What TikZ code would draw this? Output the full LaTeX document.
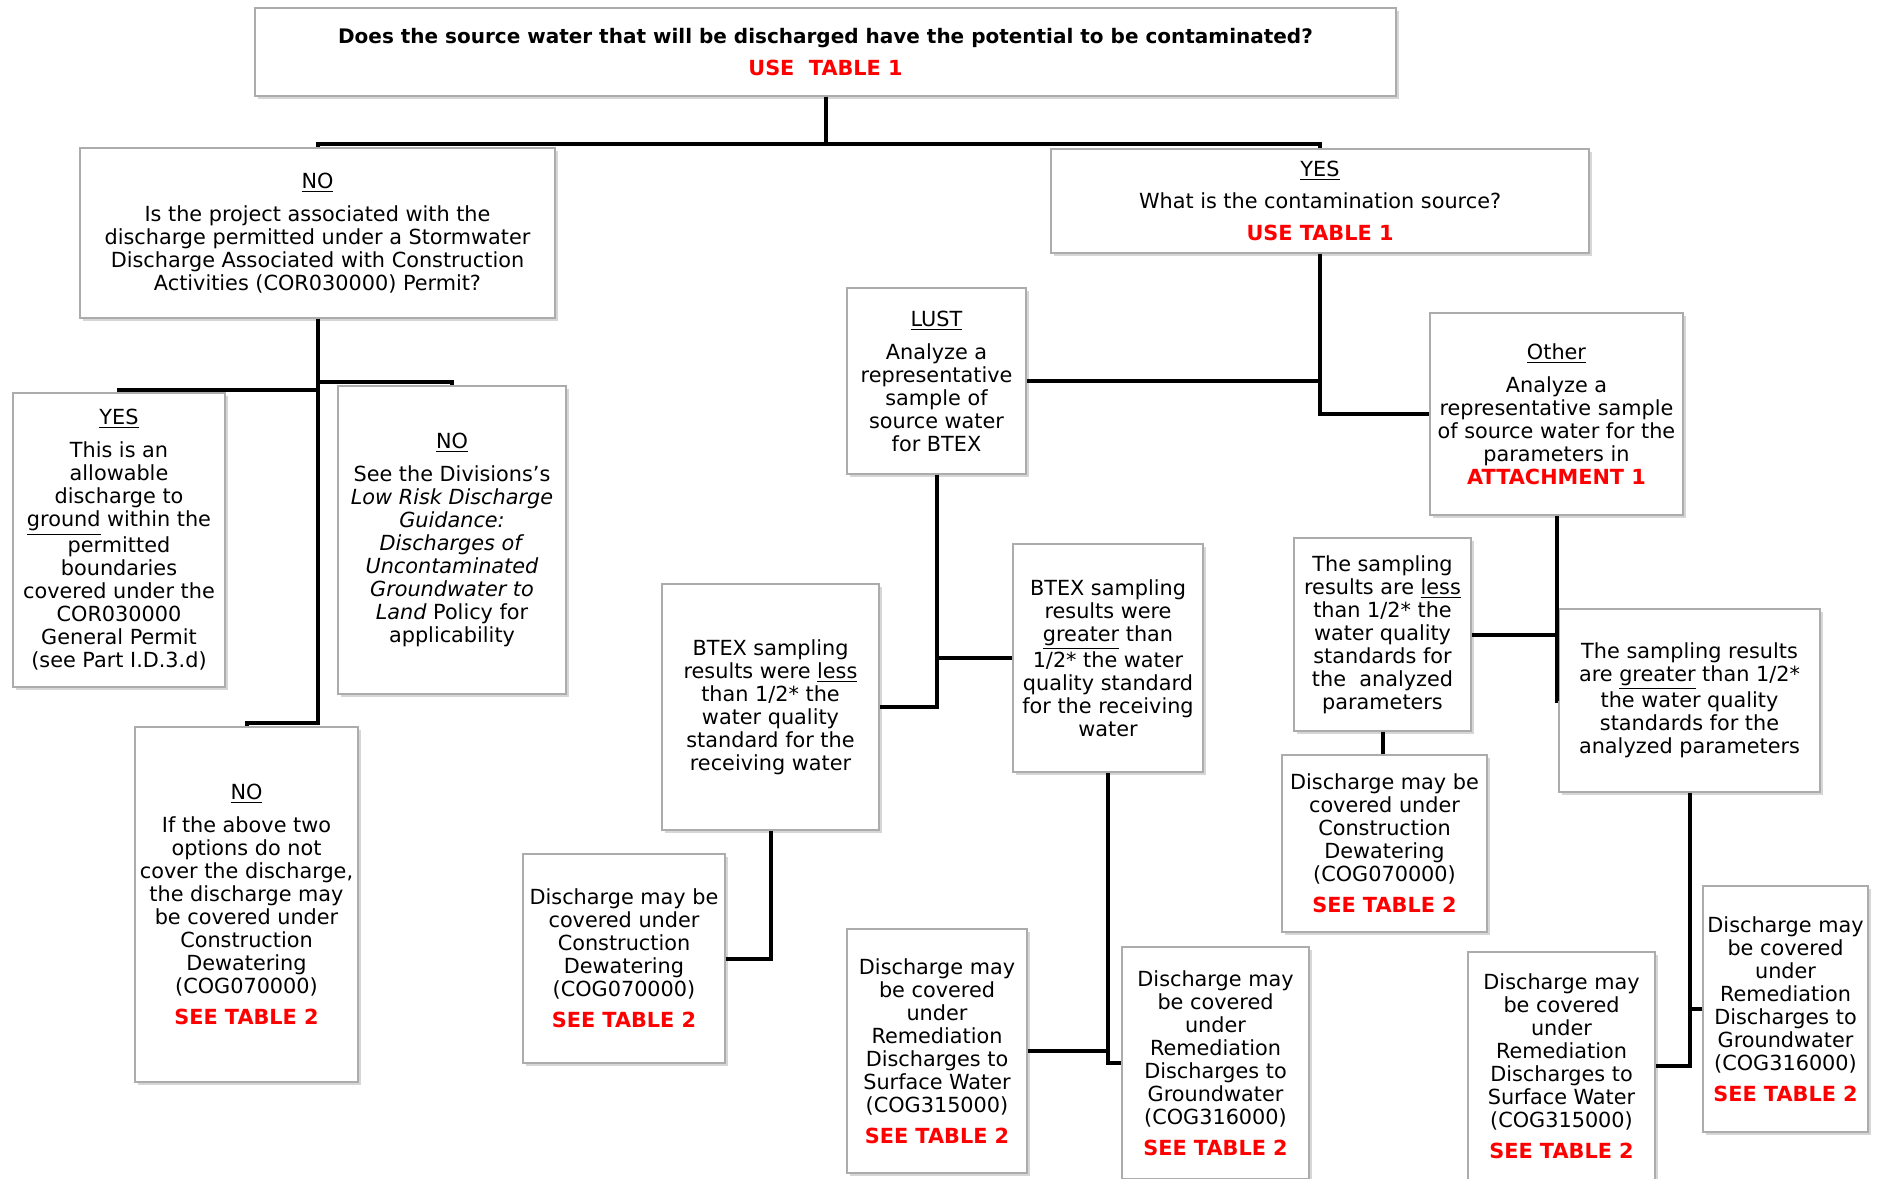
\documentclass[tikz,border=0pt]{standalone}
\usepackage{fontspec}
\setmainfont{DejaVu Sans}
\usetikzlibrary{shadows}
\newcommand\redtxt[1]{\textcolor{red}{\textbf{#1}}}
\begin{document}
\begin{tikzpicture}[x=0.5pt,y=-0.5pt,
  box/.style={draw=gray!65, line width=0.6pt, fill=white, align=center, inner sep=0pt,
    font=\fontsize{10.4}{11.5}\selectfont,
    drop shadow={shadow xshift=1.3pt, shadow yshift=-1.6pt, fill=gray!70, opacity=0.45}},
  conn/.style={line width=2pt, black}]
\useasboundingbox[fill=white] (0,0) rectangle (1879,1178);

\node[box, minimum width=570.5pt, minimum height=44pt] (top) at (825.5,52)
  {\fontsize{10}{11.5}\selectfont\textbf{Does the source water that will be discharged have the potential to be contaminated?}\\[4.5pt]
   \redtxt{USE\ \ TABLE 1}};

\node[box, minimum width=237.5pt, minimum height=85pt] (no) at (317.5,233)
  {\underline{NO}\\[5pt]
   Is the project associated with the\\
   discharge permitted under a Stormwater\\
   Discharge Associated with Construction\\
   Activities (COR030000) Permit?};

\node[box, minimum width=269pt, minimum height=52pt] (yes) at (1320,201)
  {\underline{YES}\\[4.5pt]
   What is the contamination source?\\[4.5pt]
   \redtxt{USE TABLE 1}};

\node[box, minimum width=106pt, minimum height=147pt] (yes2) at (119,540)
  {\underline{YES}\\[5pt]
   This is an\\ allowable\\ discharge to\\ \underline{ground} within the\\ permitted\\ boundaries\\
   covered under the\\ COR030000\\ General Permit\\ (see Part I.D.3.d)};

\node[box, minimum width=114pt, minimum height=154pt] (no2) at (452,540)
  {\underline{NO}\\[5pt]
   See the Divisions's\\ \textit{Low Risk Discharge}\\ \textit{Guidance:}\\ \textit{Discharges of}\\
   \textit{Uncontaminated}\\ \textit{Groundwater to}\\ \textit{Land} Policy for\\ applicability};

\node[box, minimum width=111.5pt, minimum height=177.5pt] (nob) at (246.5,904.5)
  {\underline{NO}\\[5pt]
   If the above two\\ options do not\\ cover the discharge,\\ the discharge may\\ be covered under\\
   Construction\\ Dewatering\\ (COG070000)\\[4pt] \redtxt{SEE TABLE 2}};

\node[box, minimum width=89.5pt, minimum height=93pt] (lust) at (936.5,381)
  {\underline{LUST}\\[5pt]
   Analyze a\\ representative\\ sample of\\ source water\\ for BTEX};

\node[box, minimum width=108.5pt, minimum height=123pt] (btexl) at (770.5,707)
  {BTEX sampling\\ results were \underline{less}\\ than 1/2* the\\ water quality\\ standard for the\\ receiving water};

\node[box, minimum width=95pt, minimum height=114pt] (btexg) at (1108,658)
  {BTEX sampling\\ results were\\ \underline{greater} than\\ 1/2* the water\\ quality standard\\ for the receiving\\ water};

\node[box, minimum width=101pt, minimum height=104.5pt] (cog1) at (624,958.5)
  {Discharge may be\\ covered under\\ Construction\\ Dewatering\\ (COG070000)\\[4pt] \redtxt{SEE TABLE 2}};

\node[box, minimum width=90pt, minimum height=122pt] (surf1) at (937,1051)
  {Discharge may\\ be covered\\ under\\ Remediation\\ Discharges to\\ Surface Water\\ (COG315000)\\[4pt] \redtxt{SEE TABLE 2}};

\node[box, minimum width=93.5pt, minimum height=116pt] (gw1) at (1215.5,1063)
  {Discharge may\\ be covered\\ under\\ Remediation\\ Discharges to\\ Groundwater\\ (COG316000)\\[4pt] \redtxt{SEE TABLE 2}};

\node[box, minimum width=126.5pt, minimum height=101pt] (other) at (1556.5,414)
  {\underline{Other}\\[5pt]
   Analyze a\\ representative sample\\ of source water for the\\ parameters in\\ \redtxt{ATTACHMENT 1}};

\node[box, minimum width=88.5pt, minimum height=96.5pt] (sampl) at (1382.5,634.5)
  {The sampling\\ results are \underline{less}\\ than 1/2* the\\ water quality\\ standards for\\ the\ \ analyzed\\ parameters};

\node[box, minimum width=130.5pt, minimum height=91.5pt] (sampg) at (1689.5,700.5)
  {The sampling results\\ are \underline{greater} than 1/2*\\ the water quality\\ standards for the\\ analyzed parameters};

\node[box, minimum width=102.5pt, minimum height=88.5pt] (cog2) at (1384.5,843.5)
  {Discharge may be\\ covered under\\ Construction\\ Dewatering\\ (COG070000)\\[4pt] \redtxt{SEE TABLE 2}};

\node[box, minimum width=93.5pt, minimum height=114pt] (surf2) at (1561.5,1066)
  {Discharge may\\ be covered\\ under\\ Remediation\\ Discharges to\\ Surface Water\\ (COG315000)\\[4pt] \redtxt{SEE TABLE 2}};

\node[box, minimum width=82.5pt, minimum height=123pt] (gw2) at (1785.5,1009)
  {Discharge may\\ be covered\\ under\\ Remediation\\ Discharges to\\ Groundwater\\ (COG316000)\\[4pt] \redtxt{SEE TABLE 2}};

% connectors
\draw[conn] (top.south) -- ++(0,47) -| (no.north);
\draw[conn] (top.south) -- ++(0,47) -| (yes.north);
\draw[conn] (no.south) -- ++(0,404) -| (nob.north);
\draw[conn] (no.south) -- ++(0,71) -| (yes2.north);
\draw[conn] (no.south) -- ++(0,63) -| (no2.north);
\draw[conn] (yes.south) |- (other.west);
\draw[conn] (lust.east) -- (lust.east -| yes.south);
\draw[conn] (lust.south) |- (btexl.east);
\draw[conn] (btexg.west) -- (btexg.west -| lust.south);
\draw[conn] (btexl.south) |- (cog1.east);
\draw[conn] (btexg.south) |- (gw1.west);
\draw[conn] (surf1.east) -- (surf1.east -| btexg.south);
\draw[conn] (other.south) |- (sampg.west);
\draw[conn] (sampl.east) -- (sampl.east -| other.south);
\draw[conn] (sampl.south) -- (sampl.south |- cog2.north);
\draw[conn] (sampg.south) |- (surf2.east);
\draw[conn] (gw2.west) -- (gw2.west -| sampg.south);
\end{tikzpicture}
\end{document}
